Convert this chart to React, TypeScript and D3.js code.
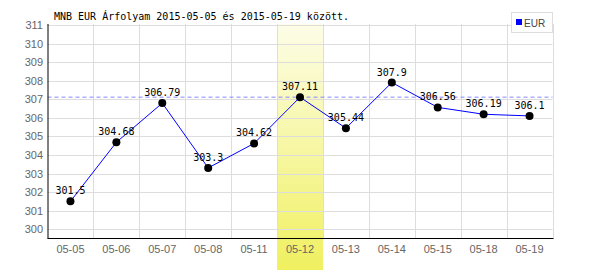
import React from "react";
import * as d3 from "d3";

const categories = ["05-05", "05-06", "05-07", "05-08", "05-11", "05-12", "05-13", "05-14", "05-15", "05-18", "05-19"];
const values = [301.5, 304.68, 306.79, 303.3, 304.62, 307.11, 305.44, 307.9, 306.56, 306.19, 306.1];
const valueLabels = ["301.5", "304.68", "306.79", "303.3", "304.62", "307.11", "305.44", "307.9", "306.56", "306.19", "306.1"];
const yTicks = [300, 301, 302, 303, 304, 305, 306, 307, 308, 309, 310, 311];
const highlightCategory = "05-12";
const referenceValue = 307.11;
const title = "MNB EUR Árfolyam 2015-05-05 és 2015-05-19 között.";
const seriesName = "EUR";

const W = 600, H = 270;
const left = 47.5, right = 552.5, top = 24, bottom = 238.5;

export default function App() {
  const x = d3.scaleBand<string>().domain(categories).range([left, right]).padding(0);
  const y = d3.scaleLinear().domain([299.5, 311.05]).range([bottom, top]);
  const cx = (c: string) => (x(c) as number) + x.bandwidth() / 2;
  const line = d3.line<number>().x((_, i) => cx(categories[i])).y((v) => y(v));
  const mono = "'DejaVu Sans Mono', monospace";
  const sans = "'Liberation Sans', Arial, sans-serif";
  const hx = x(highlightCategory) as number;

  return (
    <svg width={W} height={H} style={{ position: "absolute", left: 0, top: 0 }}>
      <defs>
        <linearGradient id="hl" x1="0" y1="0" x2="0" y2="1">
          <stop offset="0%" stopColor="#fdfde8" />
          <stop offset="100%" stopColor="#f0f060" />
        </linearGradient>
      </defs>
      <rect width={W} height={H} fill="#fff" />
      <rect x={hx} y={top} width={x.bandwidth()} height={H - top} fill="url(#hl)" />
      {yTicks.map((t) => (
        <line key={"gy" + t} x1={left} x2={right} y1={Math.round(y(t)) + 0.5} y2={Math.round(y(t)) + 0.5} stroke="#dddddd" />
      ))}
      {categories.map((c, i) => {
        const xx = Math.round((x(c) as number) + x.bandwidth()) + 0.5;
        return <line key={"gx" + i} x1={xx} x2={xx} y1={top} y2={bottom} stroke="#dddddd" />;
      })}
      <line x1={left} x2={right} y1={y(referenceValue)} y2={y(referenceValue)} stroke="#8888ff" strokeDasharray="4,3" />
      <line x1={left + 0.5} x2={left + 0.5} y1={top} y2={bottom} stroke="#000" />
      <line x1={left} x2={right + 1} y1={bottom} y2={bottom} stroke="#000" />
      {yTicks.map((t) => (
        <text key={"ty" + t} x={43} y={y(t) + 4} textAnchor="end" fontFamily={sans} fontSize={11} fill="#666">{t}</text>
      ))}
      {categories.map((c) => (
        <text key={"tx" + c} x={cx(c)} y={253} textAnchor="middle" fontFamily={sans} fontSize={11} fill="#666">{c}</text>
      ))}
      <path d={line(values) as string} fill="none" stroke="#0000ff" strokeWidth={1} />
      {values.map((v, i) => (
        <circle key={"p" + i} cx={cx(categories[i])} cy={y(v)} r={4} fill="#000" />
      ))}
      {values.map((v, i) => (
        <text key={"l" + i} x={cx(categories[i])} y={y(v) - 7} textAnchor="middle" fontFamily={mono} fontSize={10} fill="#000">{valueLabels[i]}</text>
      ))}
      <text x={54} y={20} fontFamily={mono} fontSize={10} fill="#000">{title}</text>
      <rect x={511.5} y={12.5} width={41} height={20} fill="#fff" stroke="#dddddd" />
      <rect x={516} y={19} width={6} height={6} fill="#0000ff" />
      <text x={524} y={27} fontFamily={sans} fontSize={10} fill="#444">{seriesName}</text>
    </svg>
  );
}
